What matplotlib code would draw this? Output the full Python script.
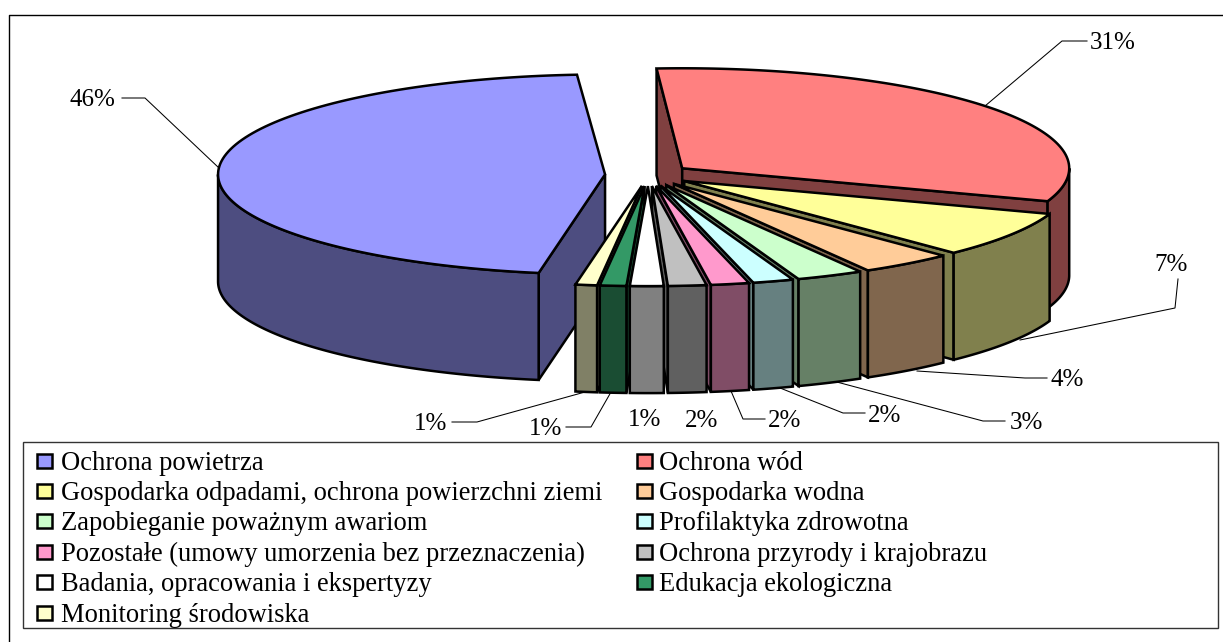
import numpy as np
import matplotlib
matplotlib.use("Agg")
import matplotlib.pyplot as plt
from matplotlib.patches import Polygon, Rectangle

plt.rcParams['font.family'] = ['Liberation Serif', 'DejaVu Serif']

kategorie = ['Ochrona powietrza', 'Ochrona wód',
             'Gospodarka odpadami, ochrona powierzchni ziemi', 'Gospodarka wodna',
             'Zapobieganie poważnym awariom', 'Profilaktyka zdrowotna',
             'Pozostałe (umowy umorzenia bez przeznaczenia)', 'Ochrona przyrody i krajobrazu',
             'Badania, opracowania i ekspertyzy', 'Edukacja ekologiczna',
             'Monitoring środowiska']
wartosci = [46.1, 31.4, 7.4, 3.9, 2.8, 1.7, 1.6, 1.6, 1.4, 1.1, 0.9]
kolory = ['#9999FF', '#FF8080', '#FFFF99', '#FFCC99', '#CCFFCC', '#CCFFFF',
          '#FF99CC', '#C0C0C0', '#FFFFFF', '#339966', '#FFFFCC']

# pozycje etykiet i linie odniesienia, w pikselach obrazka
etykiety_xy = [(92, 100), (1113, 43), (1171, 265), (1067, 380), (1026, 423), (885, 416),
               (785, 421), (702, 421), (645, 420), (546, 429), (431, 424)]
linie = [[(122, 98), (145, 98), (219, 168)],
         [(1087, 41), (1062, 41), (985, 106)],
         [(1178, 279), (1175, 308), (1020, 340)],
         [(1047, 378), (1025, 378), (917, 371)],
         [(1005, 421), (983, 421), (833, 381)],
         [(865, 413), (843, 413), (775, 386)],
         [(765, 419), (743, 419), (731, 391)],
         None,
         None,
         [(566, 427), (591, 427), (611, 392)],
         [(452, 422), (477, 422), (585, 392)]]

# geometria
CX, CY = 648, 175
RX, RY = 387, 100
WYSUN = 43
GLEB = 107
START = -3.8
LW = 1.8


def punkt(x0, y0, kat):
    k = np.radians(kat)
    return x0 + RX * np.sin(k), y0 - RY * np.cos(k)


def luk(x0, y0, a, b):
    t = np.linspace(a, b, 120)
    x, y = punkt(x0, y0, t)
    return np.column_stack([x, y])


def przyciemnij(kolor):
    return tuple(c * 0.5 for c in matplotlib.colors.to_rgb(kolor))


fig = plt.figure(figsize=(12.23, 6.42), dpi=100)
ax = fig.add_axes([0, 0, 1, 1])
ax.set_xlim(0, 1223)
ax.set_ylim(642, 0)
ax.axis('off')

# ramka wykresu
ax.plot([9, 9, 1223], [642, 15, 15], color='black', lw=1.0)

# kolejnosc wartosci zaczyna sie od niebieskiego, ale katy liczone od czerwonego
kolej = list(range(1, len(wartosci))) + [0]
katy = {}
a = START
for i in kolej:
    b = a + wartosci[i] * 3.6
    katy[i] = (a, b)
    a = b

for i, lin in enumerate(linie):
    if lin is not None:
        xs, ys = zip(*lin)
        ax.plot(xs, ys, color='black', lw=0.75, zorder=1)
    ax.text(*etykiety_xy[i], f"{round(wartosci[i])}%", fontsize=18, ha='center', va='center', zorder=3)

# od tylu do przodu
porzadek = sorted(kolej, key=lambda i: -abs(sum(katy[i]) / 2 - 180))
z = 2.0
for i in porzadek:
    a, b = katy[i]
    m = np.radians((a + b) / 2)
    x0 = CX + WYSUN * np.sin(m)
    y0 = CY - WYSUN * RY / RX * np.cos(m)
    gora = kolory[i]
    bok = przyciemnij(gora)
    styl = dict(edgecolor='black', lw=LW, joinstyle='miter')

    for kat, normalna in ((a, a - 90), (b, b + 90)):
        if np.cos(np.radians(normalna)) < 0:
            p = punkt(x0, y0, kat)
            ax.add_patch(Polygon([(x0, y0), p, (p[0], p[1] + GLEB), (x0, y0 + GLEB)],
                                 facecolor=bok, zorder=z, **styl))
    # zewnetrzna sciana tylko z przodu
    a1, b1 = max(a, 90), min(b, 270)
    if b1 > a1:
        arc = luk(x0, y0, a1, b1)
        dol = arc[::-1] + [0, GLEB]
        ax.add_patch(Polygon(np.vstack([arc, dol]), facecolor=bok, zorder=z, **styl))
    ax.add_patch(Polygon(np.vstack([[(x0, y0)], luk(x0, y0, a, b)]), facecolor=gora, zorder=z, **styl))
    z += 0.01

# legenda
ax.add_patch(Rectangle((23, 442), 1195, 186, facecolor='white', edgecolor='#333333', lw=1.0, zorder=4))
for n, nazwa in enumerate(kategorie):
    wiersz, kol = n // 2, n % 2
    y = 460.5 + wiersz * 30.4
    x = 37 + kol * 599.5
    ax.add_patch(Rectangle((x, y - 7), 15, 14, facecolor=kolory[n], edgecolor='black', lw=1.8, zorder=5))
    ax.text(61 + kol * 598, y + 2.5, nazwa, fontsize=19.1, ha='left', va='center', zorder=5)

fig.savefig('out.png', dpi=100)
